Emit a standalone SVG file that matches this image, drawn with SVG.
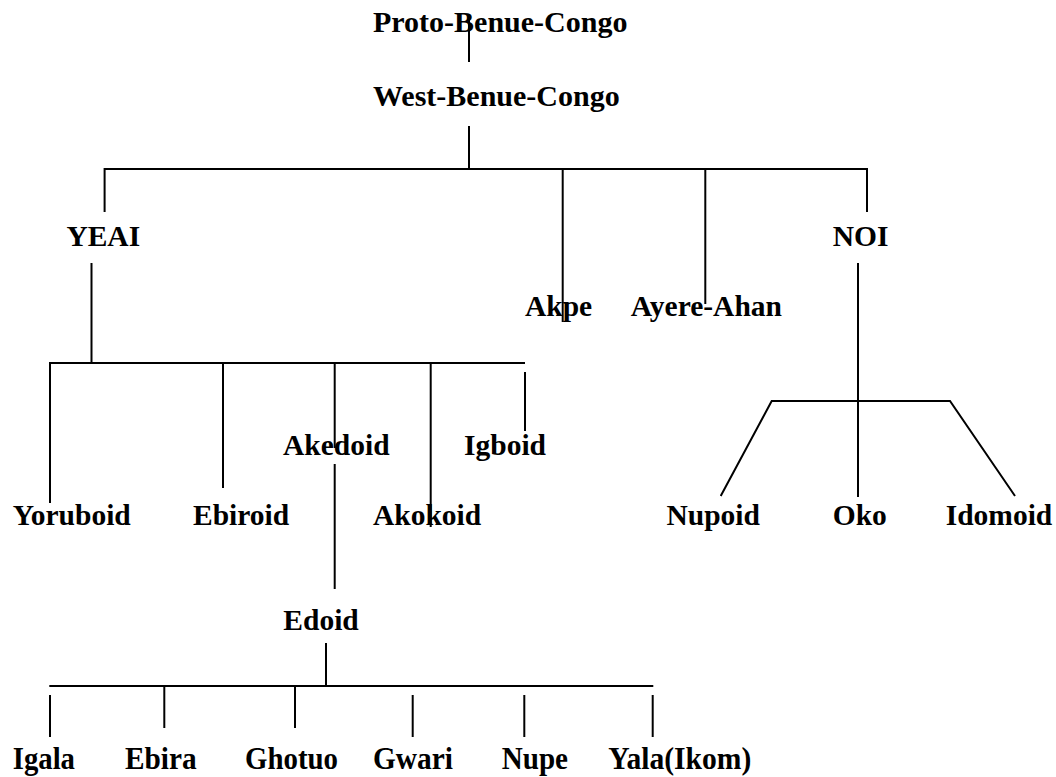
<svg xmlns="http://www.w3.org/2000/svg" width="1056" height="777" viewBox="0 0 1056 777">
  <style>
    .lbl { font-family: "Liberation Serif", "Times New Roman", serif; font-weight: bold; font-size: 29.5px; fill: #000; }
    .top { font-size: 30px; }
    .leaf { font-size: 30.5px; }
    .ln { fill: none; stroke: #000; stroke-width: 2; }
  </style>
  <rect width="1056" height="777" fill="#fff"/>

  <!-- branch lines of the family tree -->
  <g id="connectors" class="ln">
    <line x1="469" y1="20" x2="469" y2="62"/>
    <line x1="469" y1="126" x2="469" y2="169"/>
    <polyline points="104.6,212 104.6,169 867,169 867,212"/>
    <line x1="562.7" y1="169" x2="562.7" y2="322"/>
    <line x1="705.3" y1="169" x2="705.3" y2="304"/>

    <line x1="91.5" y1="263" x2="91.5" y2="363"/>
    <polyline points="50,503 50,363 525,363"/>
    <line x1="223" y1="363" x2="223" y2="488"/>
    <line x1="334.7" y1="363" x2="334.7" y2="448"/>
    <line x1="430.7" y1="363" x2="430.7" y2="527"/>
    <line x1="525" y1="372" x2="525" y2="431"/>
    <line x1="334.7" y1="464" x2="334.7" y2="589"/>

    <line x1="858" y1="263" x2="858" y2="497"/>
    <polyline points="720.7,496 771.7,401 950,401 1015,496"/>

    <line x1="326" y1="643" x2="326" y2="686"/>
    <line x1="49.3" y1="686" x2="653.3" y2="686"/>
    <line x1="50" y1="695" x2="50" y2="737"/>
    <line x1="164.3" y1="686" x2="164.3" y2="728"/>
    <line x1="295" y1="686" x2="295" y2="728"/>
    <line x1="412.7" y1="695" x2="412.7" y2="737"/>
    <line x1="524.3" y1="695" x2="524.3" y2="737"/>
    <line x1="652.7" y1="695" x2="652.7" y2="737"/>
  </g>

  <!-- language group labels -->
  <g id="proto-benue-congo"><text class="lbl top" x="373" y="32">Proto-Benue-Congo</text></g>
  <g id="west-benue-congo"><text class="lbl top" x="373" y="106">West-Benue-Congo</text></g>
  <g id="yeai"><text class="lbl" x="66.4" y="246">YEAI</text></g>
  <g id="noi"><text class="lbl" x="832.7" y="246">NOI</text></g>
  <g id="akpe"><text class="lbl" x="525" y="316">Akpe</text></g>
  <g id="ayere-ahan"><text class="lbl" x="630.7" y="316">Ayere-Ahan</text></g>
  <g id="akedoid"><text class="lbl" x="283" y="455">Akedoid</text></g>
  <g id="igboid"><text class="lbl" x="464" y="455">Igboid</text></g>
  <g id="yoruboid"><text class="lbl" x="12.7" y="525">Yoruboid</text></g>
  <g id="ebiroid"><text class="lbl" x="193" y="525">Ebiroid</text></g>
  <g id="akokoid"><text class="lbl" x="373" y="525">Akokoid</text></g>
  <g id="nupoid"><text class="lbl" x="666.5" y="525">Nupoid</text></g>
  <g id="oko"><text class="lbl" x="832.7" y="525">Oko</text></g>
  <g id="idomoid"><text class="lbl" x="945.7" y="525">Idomoid</text></g>
  <g id="edoid"><text class="lbl" x="283.3" y="630">Edoid</text></g>

  <!-- leaf languages: slightly narrow lettering -->
  <g id="igala"><text class="lbl leaf" x="12.7" y="769" textLength="62.3" lengthAdjust="spacingAndGlyphs">Igala</text></g>
  <g id="ebira"><text class="lbl leaf" x="125" y="769" textLength="71.7" lengthAdjust="spacingAndGlyphs">Ebira</text></g>
  <g id="ghotuo"><text class="lbl leaf" x="245" y="769" textLength="93" lengthAdjust="spacingAndGlyphs">Ghotuo</text></g>
  <g id="gwari"><text class="lbl leaf" x="373" y="769" textLength="80" lengthAdjust="spacingAndGlyphs">Gwari</text></g>
  <g id="nupe"><text class="lbl leaf" x="501.7" y="769" textLength="66.3" lengthAdjust="spacingAndGlyphs">Nupe</text></g>
  <g id="yala-ikom"><text class="lbl leaf" x="608.3" y="769" textLength="143" lengthAdjust="spacingAndGlyphs">Yala(Ikom)</text></g>
</svg>
